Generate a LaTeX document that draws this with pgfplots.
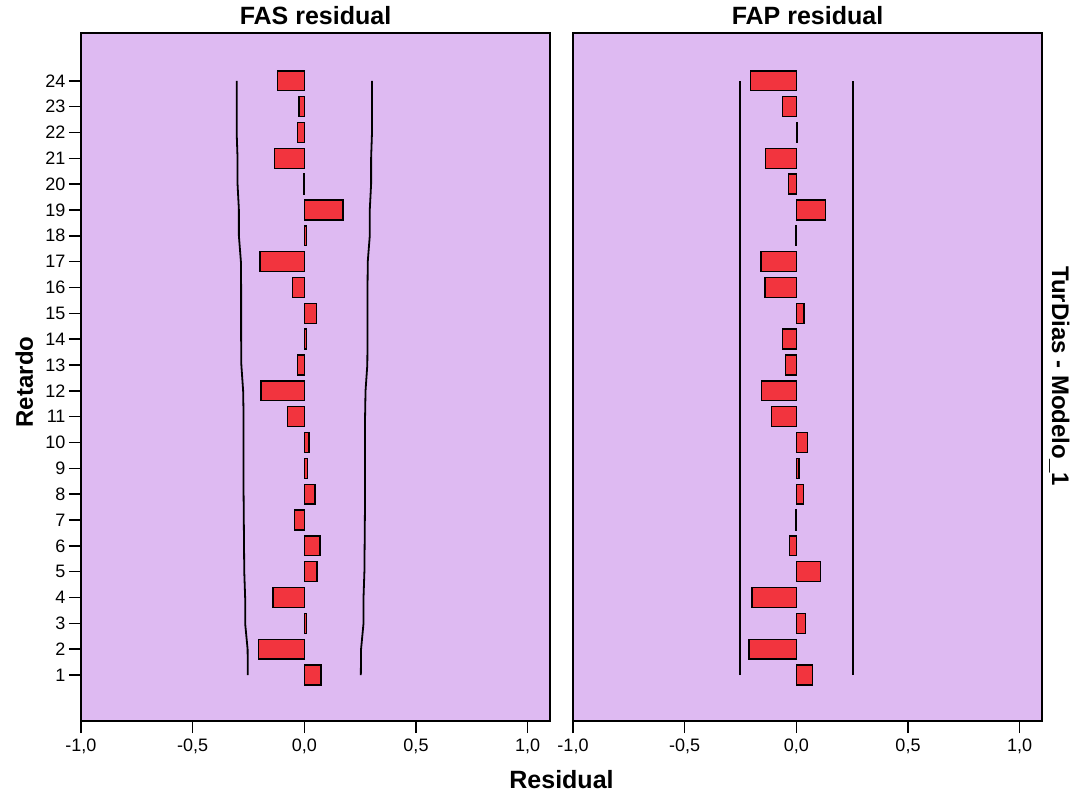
\documentclass[border=0pt]{standalone}
\usepackage{fontspec}
\setmainfont{Liberation Sans}
\usepackage{pgfplots}
\usepackage{pgfplotstable}
\pgfplotsset{compat=1.18}

\definecolor{panelbg}{RGB}{222,186,242}
\definecolor{barred}{RGB}{242,52,62}

% lag, residual ACF, Bartlett bounds
\pgfplotstableread{
lag acf lo hi
1 0.074 -0.253 0.253
2 -0.204 -0.254 0.254
3 0.010 -0.265 0.265
4 -0.140 -0.265 0.265
5 0.056 -0.269 0.269
6 0.070 -0.270 0.270
7 -0.045 -0.271 0.271
8 0.047 -0.272 0.272
9 0.013 -0.272 0.272
10 0.021 -0.272 0.272
11 -0.075 -0.272 0.272
12 -0.194 -0.274 0.274
13 -0.031 -0.282 0.282
14 0.010 -0.283 0.283
15 0.054 -0.283 0.283
16 -0.054 -0.283 0.283
17 -0.199 -0.284 0.284
18 0.010 -0.293 0.293
19 0.174 -0.293 0.293
20 -0.002 -0.299 0.299
21 -0.133 -0.299 0.299
22 -0.031 -0.303 0.303
23 -0.024 -0.303 0.303
24 -0.121 -0.303 0.303
}\fasdata

% lag, residual PACF, bounds
\pgfplotstableread{
lag pacf lo hi
1 0.073 -0.252 0.252
2 -0.212 -0.252 0.252
3 0.042 -0.252 0.252
4 -0.198 -0.252 0.252
5 0.107 -0.252 0.252
6 -0.030 -0.252 0.252
7 -0.002 -0.252 0.252
8 0.031 -0.252 0.252
9 0.012 -0.252 0.252
10 0.049 -0.252 0.252
11 -0.110 -0.252 0.252
12 -0.155 -0.252 0.252
13 -0.048 -0.252 0.252
14 -0.062 -0.252 0.252
15 0.034 -0.252 0.252
16 -0.141 -0.252 0.252
17 -0.158 -0.252 0.252
18 -0.002 -0.252 0.252
19 0.131 -0.252 0.252
20 -0.034 -0.252 0.252
21 -0.138 -0.252 0.252
22 0.004 -0.252 0.252
23 -0.061 -0.252 0.252
24 -0.204 -0.252 0.252
}\fapdata

\begin{document}
\begin{tikzpicture}
\path[use as bounding box] (-81bp,-75bp) rectangle (996bp,721bp);
\pgfplotsset{
  resid/.style={
    scale only axis, width=469bp, height=688bp,
    xmin=-1, xmax=1.1, ymin=-0.78, ymax=25.85,
    axis background/.style={fill=panelbg},
    axis line style={line width=1.5bp},
    xtick={-1,-0.5,0,0.5,1},
    xticklabels={{-1,0},{-0,5},{0,0},{0,5},{1,0}},
    xtick pos=bottom, ytick pos=left,
    tick align=outside,
    major tick length=12bp,
    every tick/.style={black, line width=1.5bp},
    tick label style={font=\fontsize{18bp}{21bp}\selectfont},
    xticklabel style={yshift=-2bp},
    /pgf/number format/assume math mode=true,
    title style={font=\bfseries\fontsize{25bp}{28bp}\selectfont,
      at={(0.5,1)}, anchor=base, yshift=3bp},
  },
  residbar/.style={xbar, bar width=0.77, fill=barred, draw=black, line width=1.4bp},
  conf/.style={black, line width=1.8bp},
}
\begin{axis}[resid, at={(0,0)}, anchor=south west,
  title={FAS residual}, ytick={1,...,24}]
\addplot[residbar] table[x=acf, y=lag]{\fasdata};
\addplot[conf] table[x=lo, y=lag]{\fasdata};
\addplot[conf] table[x=hi, y=lag]{\fasdata};
\end{axis}
\begin{axis}[resid, at={(492bp,0)}, anchor=south west,
  title={FAP residual}, ytick=\empty]
\addplot[residbar] table[x=pacf, y=lag]{\fapdata};
\addplot[conf] table[x=lo, y=lag]{\fapdata};
\addplot[conf] table[x=hi, y=lag]{\fapdata};
\end{axis}
\node[rotate=90, anchor=base, font=\bfseries\fontsize{24bp}{28bp}\selectfont]
  at (-48bp,339bp) {Retardo};
\node[rotate=-90, anchor=base, font=\bfseries\fontsize{24bp}{28bp}\selectfont]
  at (971bp,345bp) {TurDias - Modelo\_1};
\node[anchor=base, font=\bfseries\fontsize{25bp}{28bp}\selectfont]
  at (480.5bp,-67bp) {Residual};
\end{tikzpicture}
\end{document}
